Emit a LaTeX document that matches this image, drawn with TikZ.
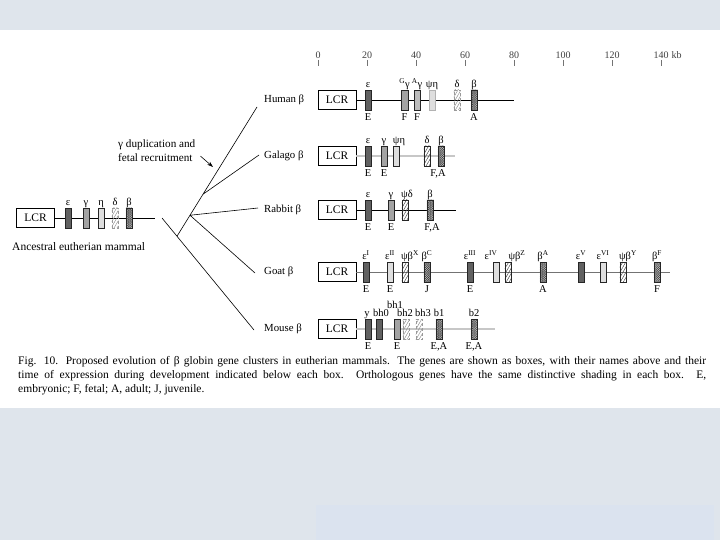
\documentclass[tikz,border=0pt]{standalone}
\usepackage{fontspec}
\setmainfont{Liberation Serif}
\usepackage{xcolor}
\usepackage{tikz}
\usetikzlibrary{arrows.meta,positioning,calc,patterns.meta}
\definecolor{slide}{HTML}{DFE5EC}
\definecolor{slidebox}{HTML}{DBE3EF}

\tikzset{
  gene/.style={draw=black!85, line width=0.4pt, minimum width=6.5pt, minimum height=20pt, inner sep=0pt},
  embr/.style={gene, fill=black!62},
  fetal/.style={gene, fill=black!36},
  fetallight/.style={gene, fill=black!26},
  pale/.style={gene, fill=black!13},
  hatched/.style={gene, pattern={Lines[angle=60,distance=2.6pt,line width=0.45pt]}, pattern color=black!75},
  ghost/.style={hatched, draw=black!40, densely dashed, pattern color=black!45},
  adult/.style={gene, preaction={fill=black!80}, pattern={Hatch[angle=45,distance=1.6pt,line width=0.4pt]}, pattern color=white!70!black},
  glab/.style={font=\fontsize{10.5}{11}\selectfont, inner sep=0.5pt, text height=7pt, text depth=2pt},
  ab/.style={label={[glab]above:#1}},
  be/.style={label={[glab,label distance=2.5pt]below:#1}},
  lcr/.style={draw, line width=0.6pt, minimum width=38pt, minimum height=19pt, inner sep=0pt, font=\fontsize{11.5}{12}\selectfont},
  species/.style={anchor=west, inner sep=0pt, font=\fontsize{10.8}{12}\selectfont},
  scalelab/.style={inner sep=0.5pt, text=black!75, font=\fontsize{10}{12}\selectfont},
  chrom/.style={line width=0.8pt},
  greyline/.style={black!22, line width=2.2pt},
  thinline/.style={black!55, line width=0.7pt},
  branch/.style={line width=0.6pt},
  caption/.style={anchor=north west, inner sep=0pt, text width=688pt, align=justify, font=\fontsize{11.5}{14}\selectfont}
}

\begin{document}
\begin{tikzpicture}[x=1pt, y=-1pt]
  \useasboundingbox (0,0) rectangle (720,540);
  \fill[slide] (0,0) rectangle (720,540);
  \fill[white] (0,30) rectangle (720,408);
  \fill[slidebox] (316,505) rectangle (714,540);

  % kb scale
  \foreach \k in {0,20,...,140}
    \draw[black!55, line width=0.6pt] ({318+2.45*\k},60) -- ({318+2.45*\k},66) node[pos=0, above=1pt, scalelab] (t\k) {\k};
  \node[scalelab, right=1.5pt of t140] (kb) {kb};

  % ancestral cluster
  \node[lcr] (lcrA) at (35.5,218) {LCR};
  \coordinate (endA) at (155,218);
  \draw[chrom] (lcrA.east) -- (endA);
  \node[embr, ab=ε] (a1) at (68,218) {};
  \node[fetal, ab=γ] (a2) at (86,218) {};
  \node[pale, ab=η] (a3) at (101,218) {};
  \node[ghost, ab=δ] (a4) at (115,218) {};
  \node[adult, ab=β] (a5) at (129,218) {};
  \node[species, font=\fontsize{11.5}{12}\selectfont] (anc) at (12,247) {Ancestral eutherian mammal};

  % tree
  \coordinate (root) at (162,218);
  \coordinate (eMou) at (254,330);
  \coordinate (eHum) at (257,107);
  \coordinate (eGal) at (259,155);
  \coordinate (eRab) at (258,208);
  \coordinate (eGoa) at (255,273);
  \coordinate (nA) at ($(root)!0.163!(eMou)$);
  \coordinate (nB) at ($(nA)!0.1625!(eHum)$);
  \coordinate (nC) at ($(nA)!0.325!(eHum)$);
  \draw[branch] (root) -- (eMou) (nA) -- (eHum) (nB) -- (eRab) (nB) -- (eGoa) (nC) -- (eGal);
  \node[anchor=north west, inner sep=0pt, align=left, font=\fontsize{11.2}{14}\selectfont] (dup) at (118,140) {γ duplication and\\fetal recruitment};
  \coordinate (dupTip) at (213,167);
  \draw[-{Stealth[length=6pt,width=4pt]}, line width=0.6pt] ($(dup.east)+(5,5)$) -- (dupTip);

  % species names
  \node[species] (human) at (264,100) {Human β};
  \node[species] (galago) at (264,156) {Galago β};
  \node[species] (rabbit) at (264,210) {Rabbit β};
  \node[species] (goat) at (264,272) {Goat β};
  \node[species] (mouse) at (264,329) {Mouse β};

  % human
  \node[lcr] (lcrH) at (337,100) {LCR};
  \coordinate (endH) at (514,100);
  \draw[chrom] (lcrH.east) -- (endH);
  \node[embr, ab=ε, be=E] (h1) at (368,100) {};
  \node[fetal, ab=\textsuperscript{G}γ, be=F] (h2) at (404.5,100) {};
  \node[fetallight, ab=\textsuperscript{A}γ, be=F] (h3) at (417,100) {};
  \node[pale, draw=black!30, ab=ψη] (h4) at (432,100) {};
  \node[ghost, ab=δ] (h5) at (457,100) {};
  \node[adult, ab=β, be=A] (h6) at (474,100) {};

  % galago
  \node[lcr] (lcrG) at (337,156) {LCR};
  \coordinate (endG) at (455,156);
  \draw[greyline] (lcrG.east) -- (endG);
  \node[embr, ab=ε, be=E] (g1) at (368,156) {};
  \node[fetal, ab=γ, be=E] (g2) at (384,156) {};
  \node[pale, label={[glab,xshift=3pt]above:ψη}] (g3) at (396,156) {};
  \node[hatched, ab=δ] (g4) at (427,156) {};
  \node[adult, ab=β, label={[glab,label distance=2.5pt,xshift=-3pt]below:{F,A}}] (g5) at (441,156) {};

  % rabbit
  \node[lcr] (lcrR) at (337,210) {LCR};
  \coordinate (endR) at (456,210);
  \draw[chrom] (lcrR.east) -- (endR);
  \node[embr, ab=ε, be=E] (r1) at (368,210) {};
  \node[fetal, ab=γ, be=E] (r2) at (391,210) {};
  \node[hatched, label={[glab,xshift=2pt]above:ψδ}] (r3) at (405,210) {};
  \node[adult, ab=β, label={[glab,label distance=2.5pt,xshift=2pt]below:{F,A}}] (r4) at (430,210) {};

  % goat
  \node[lcr] (lcrT) at (337,272) {LCR};
  \coordinate (endT) at (670,272);
  \draw[thinline] (lcrT.east) -- (endT);
  \node[embr, ab=ε\textsuperscript{I}, be=E] (c1) at (366,272) {};
  \node[pale, ab=ε\textsuperscript{II}, be=E] (c2) at (390,272) {};
  \node[hatched, label={[glab,xshift=5pt]above:ψβ\textsuperscript{X}}] (c3) at (405,272) {};
  \node[adult, ab=β\textsuperscript{C}, be=J] (c4) at (427,272) {};
  \node[embr, ab=ε\textsuperscript{III}, be=E] (c5) at (470,272) {};
  \node[pale, label={[glab,xshift=-5pt]above:ε\textsuperscript{IV}}] (c6) at (496,272) {};
  \node[hatched, label={[glab,xshift=9pt]above:ψβ\textsuperscript{Z}}] (c7) at (508,272) {};
  \node[adult, ab=β\textsuperscript{A}, be=A] (c8) at (543,272) {};
  \node[embr, ab=ε\textsuperscript{V}] (c9) at (581,272) {};
  \node[pale, ab=ε\textsuperscript{VI}] (c10) at (603,272) {};
  \node[hatched, label={[glab,xshift=5pt]above:ψβ\textsuperscript{Y}}] (c11) at (623,272) {};
  \node[adult, ab=β\textsuperscript{F}, be=F] (c12) at (657,272) {};

  % mouse
  \node[lcr] (lcrM) at (337,329) {LCR};
  \coordinate (endM) at (495,329);
  \draw[greyline] (lcrM.east) -- (endM);
  \node[embr, label={[glab,xshift=-1pt]above:y}, be=E] (m1) at (368,329) {};
  \node[embr, label={[glab,xshift=2pt]above:bh0}] (m2) at (379,329) {};
  \node[fetal, label={[glab,yshift=8pt,xshift=-2pt]above:bh1}, be=E] (m3) at (397,329) {};
  \node[ghost, label={[glab,xshift=-1pt]above:bh2}] (m4) at (406,329) {};
  \node[ghost, label={[glab,xshift=4pt]above:bh3}] (m5) at (419,329) {};
  \node[adult, ab=b1, be={E,A}] (m6) at (439,329) {};
  \node[adult, ab=b2, be={E,A}] (m7) at (474,329) {};

  % caption
  \node[caption] (cap) at (18,356) {Fig. 10. Proposed evolution of β globin gene clusters in eutherian mammals. The genes are shown as boxes, with their names above and their\linebreak time of expression during development indicated below each box. Orthologous genes have the same distinctive shading in each box. E,\linebreak embryonic; F, fetal; A, adult; J, juvenile.};
\end{tikzpicture}
\end{document}
